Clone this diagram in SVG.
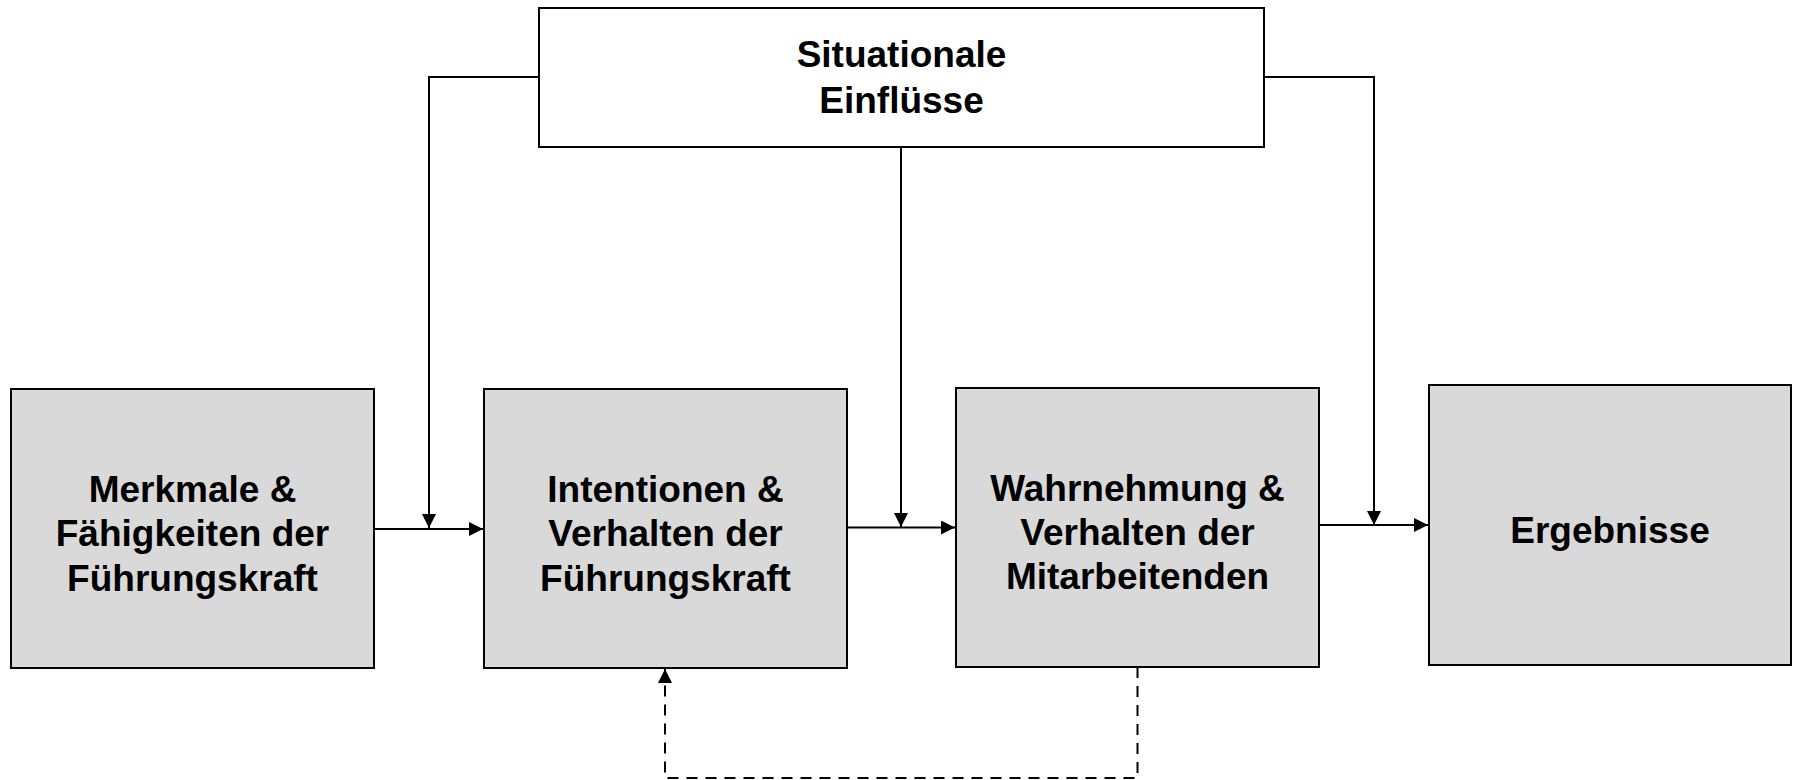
<svg xmlns="http://www.w3.org/2000/svg" width="1794" height="780" viewBox="0 0 1794 780">
<style>
.box{fill:#d9d9d9;stroke:#000;stroke-width:2}
.top{fill:#fff;stroke:#000;stroke-width:2}
.t{font-family:"Liberation Sans",Arial,sans-serif;font-weight:bold;font-size:37px;text-anchor:middle;fill:#000}
.c{fill:none;stroke:#000;stroke-width:2}
.d{fill:none;stroke:#000;stroke-width:2;stroke-dasharray:11 8}
</style>
<defs>
<marker id="ah" viewBox="0 0 14 14" refX="14" refY="7" markerWidth="14" markerHeight="14" markerUnits="userSpaceOnUse" orient="auto">
<path d="M0,0 L14,7 L0,14 Z" fill="#000"/>
</marker>
</defs>
<rect width="1794" height="780" fill="#fff"/>
<g id="connectors">
<path class="c" d="M374,529 H483" marker-end="url(#ah)"/>
<path class="c" d="M847,527.5 H955" marker-end="url(#ah)"/>
<path class="c" d="M1319,525 H1428" marker-end="url(#ah)"/>
<path class="c" d="M539,77 H429 V528" marker-end="url(#ah)"/>
<path class="c" d="M901,147 V527" marker-end="url(#ah)"/>
<path class="c" d="M1264,77 H1374 V525" marker-end="url(#ah)"/>
<path class="d" d="M1137.5,667 V778 H665 V669" marker-end="url(#ah)"/>
</g>
<g id="situationale">
<rect class="top" x="539" y="8" width="725" height="139"/>
<text class="t" x="901.5" y="67">Situationale</text>
<text class="t" x="901.5" y="113">Einflüsse</text>
</g>
<g id="merkmale">
<rect class="box" x="11" y="389" width="363" height="279"/>
<text class="t" x="192.5" y="502">Merkmale &amp;</text>
<text class="t" x="192.5" y="546">Fähigkeiten der</text>
<text class="t" x="192.5" y="591">Führungskraft</text>
</g>
<g id="intentionen">
<rect class="box" x="484" y="389" width="363" height="279"/>
<text class="t" x="665.5" y="502">Intentionen &amp;</text>
<text class="t" x="665.5" y="546">Verhalten der</text>
<text class="t" x="665.5" y="591">Führungskraft</text>
</g>
<g id="wahrnehmung">
<rect class="box" x="956" y="388" width="363" height="279"/>
<text class="t" x="1137.5" y="501">Wahrnehmung &amp;</text>
<text class="t" x="1137.5" y="545">Verhalten der</text>
<text class="t" x="1137.5" y="589">Mitarbeitenden</text>
</g>
<g id="ergebnisse">
<rect class="box" x="1429" y="385" width="362" height="280"/>
<text class="t" x="1610" y="543">Ergebnisse</text>
</g>
</svg>
